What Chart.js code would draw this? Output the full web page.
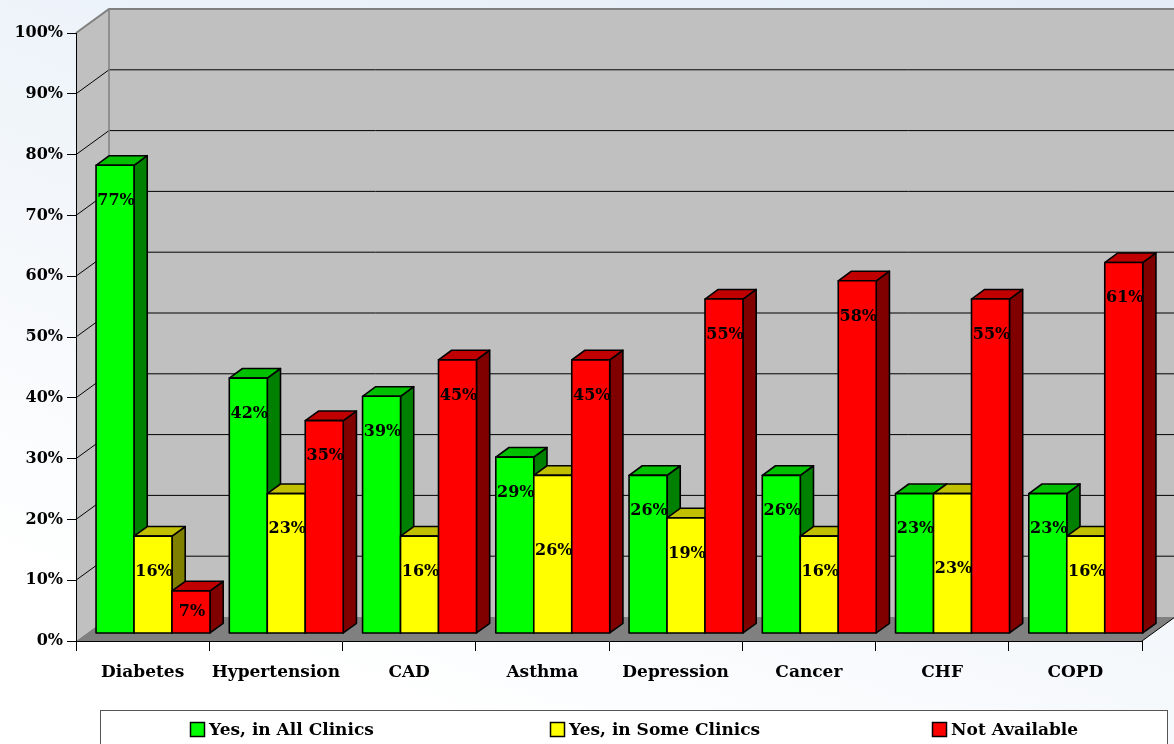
<!DOCTYPE html>
<html>
<head>
<meta charset="utf-8">
<title>Disease registries by clinic</title>
<script src="https://cdn.jsdelivr.net/npm/chart.js@4/dist/chart.umd.min.js"></script>
<style>
  html, body { margin: 0; padding: 0; }
  body {
    width: 1174px; height: 744px; overflow: hidden;
    background: linear-gradient(200deg, #e3ecf7 0%, #f0f5fa 45%, #ffffff 85%);
  }
  #wrap { position: relative; width: 1174px; height: 744px; }
</style>
</head>
<body>
<div id="wrap"><canvas id="chart"></canvas></div>
<script>
// Categories and series values (percent of clinics)
const categories   = ['Diabetes', 'Hypertension', 'CAD', 'Asthma', 'Depression', 'Cancer', 'CHF', 'COPD'];
const allClinics   = [77, 42, 39, 29, 26, 26, 23, 23];
const someClinics  = [16, 23, 16, 26, 19, 16, 23, 16];
const notAvailable = [7, 35, 45, 45, 55, 58, 55, 61];
const seriesNames  = ['Yes, in All Clinics', 'Yes, in Some Clinics', 'Not Available'];

// Face colours for each series: front, top, right side
const faces = [
  { front: '#00ff00', top: '#00c000', side: '#008000' },
  { front: '#ffff00', top: '#c0c000', side: '#808000' },
  { front: '#ff0000', top: '#c00000', side: '#800000' }
];

const FONT_FAMILY = '"DejaVu Serif", "Liberation Serif", serif';
const WALL = { dx: 33, dy: -24 };     // oblique depth of the box
const BAR_NEAR = 0.315;               // bar front plane, as a fraction of depth
const BAR_FAR = 0.715;                // bar back plane

function poly(ctx, pts, fill, stroke, lw) {
  ctx.beginPath();
  ctx.moveTo(pts[0][0], pts[0][1]);
  for (let i = 1; i < pts.length; i++) ctx.lineTo(pts[i][0], pts[i][1]);
  ctx.closePath();
  if (fill) { ctx.fillStyle = fill; ctx.fill(); }
  if (stroke) { ctx.strokeStyle = stroke; ctx.lineWidth = lw || 1; ctx.stroke(); }
}

function drawValueLabels(chart) {
  const { ctx } = chart;
  const ox = WALL.dx * BAR_NEAR, oy = WALL.dy * BAR_NEAR;
  ctx.save();
  ctx.font = `bold 16px ${FONT_FAMILY}`;
  ctx.fillStyle = '#000';
  ctx.textAlign = 'center';
  ctx.textBaseline = 'middle';
  const n = chart.data.labels.length;
  for (let j = 0; j < n; j++) {
    let prevY = null;
    chart.data.datasets.forEach((ds, i) => {
      const el = chart.getDatasetMeta(i).data[j];
      const mid = (el.y + el.base) / 2 + oy;
      let ly = Math.min(el.y + 28, mid);
      // push a label down when it would collide with its neighbour
      if (prevY !== null && Math.abs(ly - prevY) < 20) ly += 40;
      ctx.fillText(ds.data[j] + '%', el.x + ox + 1, ly);
      prevY = ly;
    });
  }
  ctx.restore();
}

function drawLegend(chart) {
  const { ctx } = chart;
  const boxL = 100.5, boxR = chart.width - 6.5, boxT = 710.5;
  const itemX = [190, 550, 932];
  ctx.save();
  ctx.fillStyle = '#ffffff';
  ctx.fillRect(boxL, boxT, boxR - boxL, 60);
  ctx.strokeStyle = '#555';
  ctx.lineWidth = 1;
  ctx.strokeRect(boxL, boxT, boxR - boxL, 60);
  ctx.font = `bold 17px ${FONT_FAMILY}`;
  ctx.textBaseline = 'middle';
  ctx.textAlign = 'left';
  chart.data.datasets.forEach((ds, i) => {
    const x = itemX[i], cy = 730;
    ctx.fillStyle = faces[i].front;
    ctx.fillRect(x + 0.5, cy - 7.5, 14, 14);
    ctx.strokeStyle = '#000';
    ctx.lineWidth = 1.5;
    ctx.strokeRect(x + 0.5, cy - 7.5, 14, 14);
    ctx.fillStyle = '#000';
    ctx.fillText(ds.label, x + 19, cy + 1);
  });
  ctx.restore();
}

const scene3d = {
  id: 'scene3d',
  // walls, floor and grid behind everything
  beforeDraw(chart) {
    const { ctx, chartArea: a, scales: { y } } = chart;
    const dx = WALL.dx, dy = WALL.dy;
    ctx.save();
    poly(ctx, [[a.left, a.top], [a.left + dx, a.top + dy], [a.left + dx, a.bottom + dy], [a.left, a.bottom]], '#c0c0c0');
    poly(ctx, [[a.left + dx, a.top + dy], [a.right + dx, a.top + dy], [a.right + dx, a.bottom + dy], [a.left + dx, a.bottom + dy]], '#c0c0c0');
    poly(ctx, [[a.left, a.bottom], [a.right, a.bottom], [a.right + dx, a.bottom + dy], [a.left + dx, a.bottom + dy]], '#808080');
    y.ticks.forEach(t => {
      const v = t.value;
      if (v === 0) return;
      const py = y.getPixelForValue(v);
      const top = v === y.max;
      ctx.beginPath();
      ctx.moveTo(a.left, py);
      ctx.lineTo(a.left + dx, py + dy);
      ctx.lineTo(a.right + dx, py + dy);
      ctx.strokeStyle = top ? '#808080' : '#000';
      ctx.lineWidth = top ? 2 : 1;
      ctx.stroke();
    });
    ctx.beginPath();
    ctx.moveTo(a.left + dx, a.top + dy);
    ctx.lineTo(a.left + dx, a.bottom + dy);
    ctx.strokeStyle = '#808080';
    ctx.lineWidth = 1.5;
    ctx.stroke();
    ctx.beginPath();
    ctx.moveTo(a.right, a.bottom);
    ctx.lineTo(a.right + dx, a.bottom + dy);
    ctx.strokeStyle = '#000';
    ctx.lineWidth = 1;
    ctx.stroke();
    ctx.restore();
  },
  // 3D bars from the bar elements laid out by the scales
  beforeDatasetsDraw(chart) {
    const { ctx } = chart;
    const ox = WALL.dx * BAR_NEAR, oy = WALL.dy * BAR_NEAR;
    const bx = WALL.dx * (BAR_FAR - BAR_NEAR), by = WALL.dy * (BAR_FAR - BAR_NEAR);
    ctx.save();
    ctx.translate(ox, oy);
    ctx.lineJoin = 'round';
    chart.data.datasets.forEach((ds, i) => {
      const meta = chart.getDatasetMeta(i);
      const f = faces[i];
      meta.data.forEach(el => {
        const L = el.x - el.width / 2, R = el.x + el.width / 2, T = el.y, B = el.base;
        poly(ctx, [[R, T], [R + bx, T + by], [R + bx, B + by], [R, B]], f.side, '#000', 1.6);
        poly(ctx, [[L, T], [L + bx, T + by], [R + bx, T + by], [R, T]], f.top, '#000', 1.6);
        poly(ctx, [[L, T], [R, T], [R, B], [L, B]], f.front, '#000', 1.6);
      });
    });
    ctx.restore();
    return false;
  },
  afterDraw(chart) {
    drawValueLabels(chart);
    drawLegend(chart);
  }
};

const xFont = { family: FONT_FAMILY, size: 17, weight: 'bold' };
const yFont = { family: FONT_FAMILY, size: 16, weight: 'bold' };

new Chart(document.getElementById('chart'), {
  type: 'bar',
  data: {
    labels: categories,
    datasets: [allClinics, someClinics, notAvailable].map((d, i) => ({
      label: seriesNames[i],
      data: d,
      backgroundColor: faces[i].front
    }))
  },
  options: {
    responsive: true,
    maintainAspectRatio: false,
    animation: false,
    devicePixelRatio: 1,
    layout: { padding: { top: 33, right: 32, left: 0, bottom: 0 } },
    datasets: { bar: { categoryPercentage: 0.855, barPercentage: 1 } },
    plugins: { legend: { display: false }, tooltip: { enabled: false } },
    scales: {
      x: {
        grid: { display: true, drawOnChartArea: false, drawTicks: true, tickLength: 10, color: '#000', offset: true },
        border: { display: true, color: '#000', width: 1 },
        ticks: { font: xFont, color: '#000', padding: 11, maxRotation: 0, autoSkip: false },
        afterFit(s) { s.height = 103; }
      },
      y: {
        min: 0, max: 100,
        grid: { drawOnChartArea: false, tickLength: 9, color: '#000' },
        border: { display: true, color: '#000', width: 1 },
        ticks: { stepSize: 10, font: yFont, color: '#000', padding: 4, callback: v => v + '%' },
        afterFit(s) { s.width = 76; }
      }
    }
  },
  plugins: [scene3d]
});
</script>
</body>
</html>
